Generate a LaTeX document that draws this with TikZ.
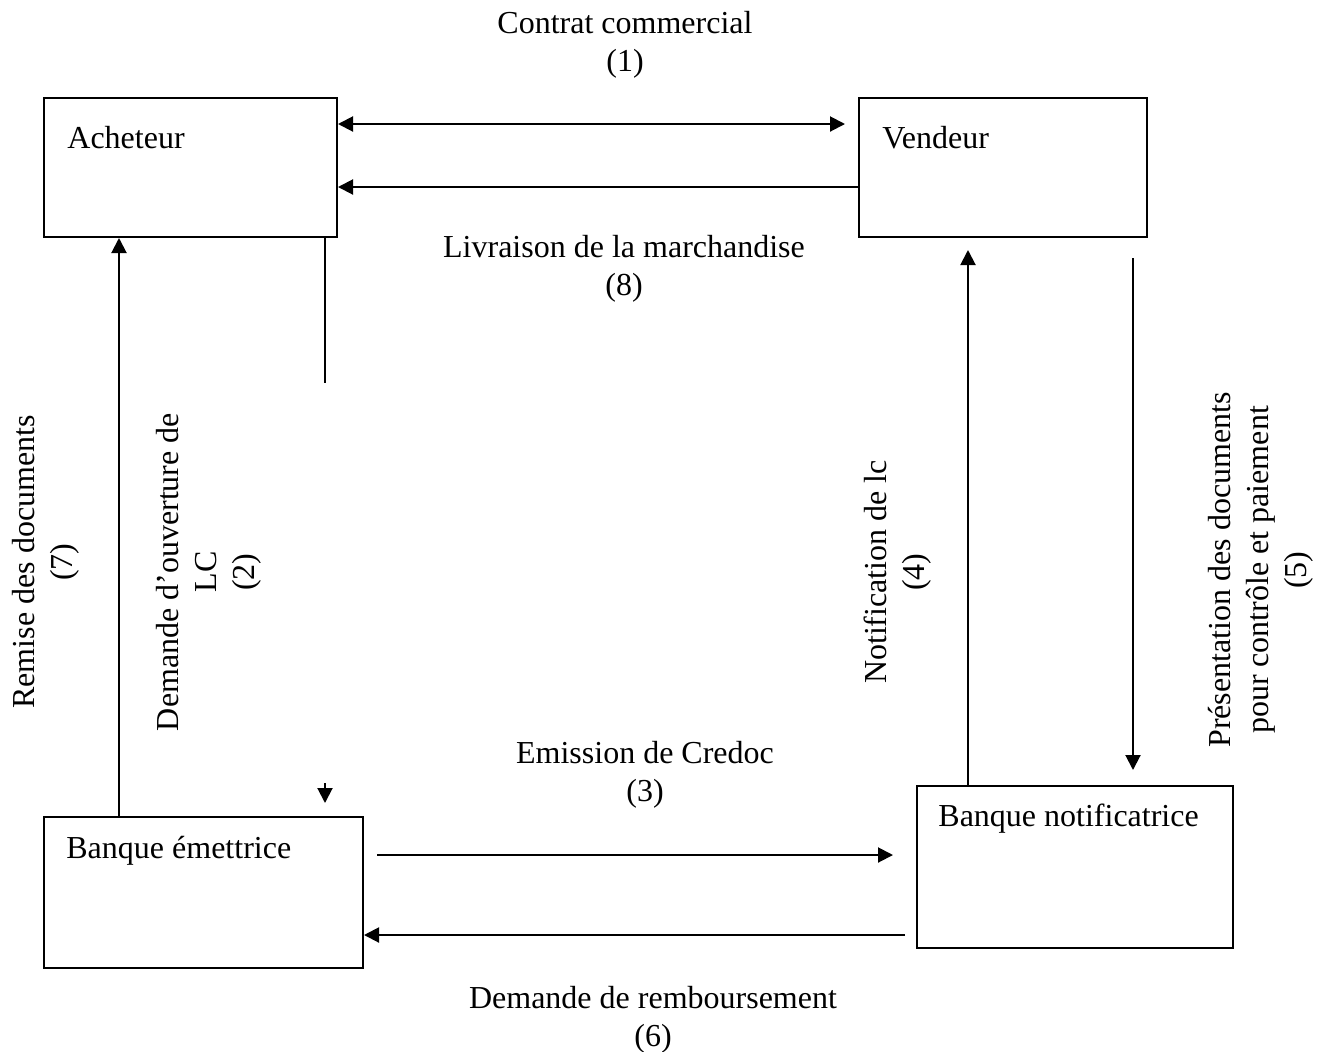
\documentclass[tikz,border=0pt]{standalone}
\usepackage{fontspec}
\setmainfont{Liberation Serif}
\usetikzlibrary{arrows.meta}
\begin{document}
\begin{tikzpicture}[x=0.5pt,y=-0.5pt,
  every node/.style={font=\fontsize{16pt}{19pt}\selectfont},
  party/.style={draw,line width=1pt,inner sep=0pt,minimum height=69.5pt},
  bank/.style={draw,line width=1pt,inner sep=0pt},
  caption/.style={inner sep=0pt,align=center,anchor=base},
  vcaption/.style={inner sep=0pt,align=center,anchor=base,rotate=90},
  boxtext/.style={inner sep=0pt,anchor=base west},
  flow/.style={line width=1pt,-{Triangle[length=7.5pt,width=7.5pt]}},
  both/.style={line width=1pt,{Triangle[length=7.5pt,width=7.5pt]}-{Triangle[length=7.5pt,width=7.5pt]}},
  plain/.style={line width=1pt}]
\useasboundingbox (0,0) rectangle (1324,1051);

% the four parties
\node[party,minimum width=146.5pt] (ach) at (190.5,167.5) {};
\node[party,minimum width=144pt] (ven) at (1003,167.5) {};
\node[bank,minimum width=159.5pt,minimum height=75.5pt] (bem) at (203.5,892.5) {};
\node[bank,minimum width=158pt,minimum height=81pt] (bno) at (1075,867) {};

\node[boxtext] (tach) at (67,148) {Acheteur};
\node[boxtext] (tven) at (882,148) {Vendeur};
\node[boxtext] (tbem) at (66,858) {Banque émettrice};
\node[boxtext] (tbno) at (938,826) {Banque notificatrice};

% free ends of the connectors
\coordinate (c1) at (845,124);
\coordinate (c8) at (0,187);
\coordinate (c2a) at (325,383);
\coordinate (c2b) at (325,783);
\coordinate (c2c) at (325,803);
\coordinate (c7) at (119,0);
\coordinate (c3a) at (377,855);
\coordinate (c3b) at (893,855);
\coordinate (c6) at (905,935);
\coordinate (c4) at (968,250);
\coordinate (c5a) at (1133,258);
\coordinate (c5b) at (1133,770);

% connectors
\draw[both] (ach.east |- c1) -- (c1);
\draw[flow] (ven.west |- c8) -- (ach.east |- c8);
\draw[plain] (ach.south -| c2a) -- (c2a);
\draw[flow] (c2b) -- (c2c);
\draw[flow] (bem.north -| c7) -- (ach.south -| c7);
\draw[flow] (c3a) -- (c3b);
\draw[flow] (c6) -- (bem.east |- c6);
\draw[flow] (bno.north -| c4) -- (c4);
\draw[flow] (c5a) -- (c5b);

% captions (anchored on the baseline of their last line)
\node[caption] (l1) at (625,71) {Contrat commercial\\(1)};
\node[caption] (l8) at (624,295) {Livraison de la marchandise\\(8)};
\node[caption] (l3) at (645,801) {Emission de Credoc\\(3)};
\node[caption] (l6) at (653,1046) {Demande de remboursement\\(6)};
\node[vcaption] (l7) at (72,562) {Remise des documents\\(7)};
\node[vcaption] (l2) at (254,572) {Demande d’ouverture de\\LC\\(2)};
\node[vcaption] (l4) at (924,572) {Notification de lc\\(4)};
\node[vcaption] (l5) at (1306,570) {Présentation des documents\\pour contrôle et paiement\\(5)};
\end{tikzpicture}
\end{document}
